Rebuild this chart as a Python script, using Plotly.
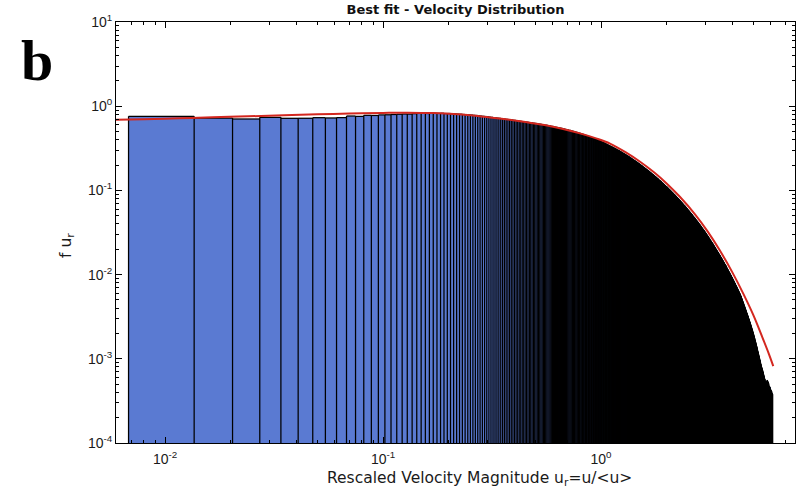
import numpy as np
import plotly.graph_objects as go

# Histogram of rescaled velocity magnitude: linear bins of equal width
BIN_WIDTH = 0.0068
FIRST_EDGE = 0.0068

BAR_HEIGHTS = [
    0.758, 0.724, 0.705, 0.737, 0.718, 0.719, 0.731, 0.725, 0.732, 0.765, 0.757, 0.779, 0.776, 0.788, 0.791, 0.797, 0.803, 0.808, 0.806, 0.815,
    0.821, 0.826, 0.819, 0.828, 0.824, 0.822, 0.825, 0.818, 0.819, 0.813, 0.811, 0.806, 0.804, 0.797, 0.795, 0.789, 0.786, 0.779, 0.776, 0.770,
    0.764, 0.759, 0.754, 0.749, 0.742, 0.738, 0.732, 0.728, 0.721, 0.718, 0.712, 0.708, 0.703, 0.699, 0.694, 0.690, 0.686, 0.681, 0.678, 0.673,
    0.669, 0.666, 0.661, 0.658, 0.654, 0.651, 0.647, 0.644, 0.640, 0.637, 0.633, 0.630, 0.626, 0.623, 0.619, 0.616, 0.612, 0.609, 0.605, 0.602,
    0.598, 0.595, 0.592, 0.588, 0.585, 0.582, 0.578, 0.575, 0.572, 0.568, 0.565, 0.562, 0.558, 0.555, 0.552, 0.548, 0.545, 0.542, 0.538, 0.535,
    0.532, 0.528, 0.525, 0.522, 0.518, 0.515, 0.512, 0.508, 0.505, 0.502, 0.498, 0.495, 0.492, 0.488, 0.485, 0.482, 0.478, 0.475, 0.472, 0.468,
    0.465, 0.462, 0.458, 0.455, 0.452, 0.448, 0.445, 0.442, 0.439, 0.436, 0.432, 0.429, 0.426, 0.423, 0.420, 0.416, 0.413, 0.410, 0.407, 0.404,
    0.401, 0.398, 0.395, 0.392, 0.389, 0.385, 0.382, 0.379, 0.376, 0.373, 0.370, 0.367, 0.364, 0.361, 0.358, 0.355, 0.352, 0.349, 0.346, 0.343,
    0.340, 0.337, 0.335, 0.332, 0.329, 0.327, 0.324, 0.321, 0.319, 0.316, 0.314, 0.311, 0.309, 0.306, 0.304, 0.301, 0.299, 0.296, 0.294, 0.291,
    0.289, 0.286, 0.284, 0.282, 0.279, 0.277, 0.275, 0.272, 0.270, 0.268, 0.266, 0.263, 0.261, 0.259, 0.257, 0.255, 0.253, 0.250, 0.248, 0.246,
    0.244, 0.242, 0.240, 0.238, 0.236, 0.234, 0.232, 0.230, 0.228, 0.226, 0.224, 0.222, 0.220, 0.218, 0.216, 0.215, 0.213, 0.211, 0.209, 0.207,
    0.206, 0.204, 0.202, 0.200, 0.199, 0.197, 0.195, 0.194, 0.192, 0.190, 0.189, 0.187, 0.185, 0.184, 0.182, 0.181, 0.179, 0.178, 0.176, 0.175,
    0.173, 0.172, 0.170, 0.169, 0.167, 0.166, 0.165, 0.163, 0.162, 0.160, 0.159, 0.158, 0.156, 0.155, 0.154, 0.152, 0.151, 0.150, 0.148, 0.147,
    0.146, 0.145, 0.144, 0.142, 0.141, 0.140, 0.139, 0.138, 0.136, 0.135, 0.134, 0.133, 0.132, 0.131, 0.130, 0.129, 0.128, 0.127, 0.125, 0.124,
    0.123, 0.122, 0.121, 0.120, 0.119, 0.118, 0.117, 0.116, 0.115, 0.114, 0.113, 0.112, 0.111, 0.111, 0.110, 0.109, 0.108, 0.107, 0.106, 0.105,
    0.104, 0.103, 0.102, 0.102, 0.101, 0.100, 0.0990, 0.0982, 0.0974, 0.0965, 0.0957, 0.0949, 0.0941, 0.0933, 0.0925, 0.0917, 0.0909, 0.0902, 0.0894, 0.0886,
    0.0879, 0.0871, 0.0864, 0.0857, 0.0849, 0.0842, 0.0835, 0.0828, 0.0821, 0.0814, 0.0807, 0.0801, 0.0794, 0.0787, 0.0781, 0.0774, 0.0768, 0.0761, 0.0755, 0.0749,
    0.0742, 0.0736, 0.0730, 0.0724, 0.0718, 0.0712, 0.0706, 0.0700, 0.0694, 0.0688, 0.0683, 0.0677, 0.0671, 0.0666, 0.0660, 0.0655, 0.0649, 0.0644, 0.0638, 0.0633,
    0.0628, 0.0622, 0.0617, 0.0612, 0.0607, 0.0602, 0.0597, 0.0592, 0.0587, 0.0582, 0.0577, 0.0572, 0.0567, 0.0563, 0.0558, 0.0553, 0.0549, 0.0544, 0.0540, 0.0535,
    0.0531, 0.0526, 0.0522, 0.0518, 0.0513, 0.0509, 0.0505, 0.0500, 0.0496, 0.0492, 0.0488, 0.0484, 0.0480, 0.0476, 0.0472, 0.0468, 0.0464, 0.0460, 0.0456, 0.0453,
    0.0449, 0.0445, 0.0441, 0.0438, 0.0434, 0.0431, 0.0427, 0.0424, 0.0420, 0.0417, 0.0413, 0.0410, 0.0406, 0.0403, 0.0400, 0.0396, 0.0393, 0.0390, 0.0386, 0.0383,
    0.0380, 0.0377, 0.0374, 0.0370, 0.0367, 0.0364, 0.0361, 0.0358, 0.0355, 0.0352, 0.0349, 0.0346, 0.0343, 0.0341, 0.0338, 0.0335, 0.0332, 0.0329, 0.0327, 0.0324,
    0.0321, 0.0318, 0.0316, 0.0313, 0.0310, 0.0308, 0.0305, 0.0302, 0.0300, 0.0297, 0.0295, 0.0292, 0.0290, 0.0287, 0.0285, 0.0282, 0.0280, 0.0277, 0.0275, 0.0273,
    0.0270, 0.0268, 0.0266, 0.0263, 0.0261, 0.0259, 0.0257, 0.0254, 0.0252, 0.0250, 0.0248, 0.0246, 0.0244, 0.0242, 0.0240, 0.0238, 0.0236, 0.0234, 0.0232, 0.0230,
    0.0228, 0.0226, 0.0224, 0.0222, 0.0220, 0.0218, 0.0216, 0.0214, 0.0212, 0.0210, 0.0209, 0.0207, 0.0205, 0.0203, 0.0202, 0.0200, 0.0198, 0.0197, 0.0195, 0.0193,
    0.0192, 0.0190, 0.0188, 0.0187, 0.0185, 0.0184, 0.0182, 0.0181, 0.0179, 0.0178, 0.0176, 0.0175, 0.0173, 0.0172, 0.0170, 0.0169, 0.0168, 0.0166, 0.0165, 0.0163,
    0.0162, 0.0161, 0.0159, 0.0158, 0.0157, 0.0155, 0.0154, 0.0153, 0.0151, 0.0150, 0.0149, 0.0148, 0.0146, 0.0145, 0.0144, 0.0143, 0.0141, 0.0140, 0.0139, 0.0138,
    0.0137, 0.0135, 0.0134, 0.0133, 0.0132, 0.0131, 0.0130, 0.0129, 0.0128, 0.0127, 0.0126, 0.0125, 0.0124, 0.0122, 0.0121, 0.0120, 0.0119, 0.0118, 0.0117, 0.0116,
    0.0115, 0.0114, 0.0113, 0.0112, 0.0111, 0.0110, 0.0109, 0.0108, 0.0107, 0.0106, 0.0106, 0.0105, 0.0104, 0.0103, 0.0102, 0.0101, 0.0100, 0.00994, 0.00985, 0.00977,
    0.00968, 0.00960, 0.00952, 0.00944, 0.00935, 0.00927, 0.00919, 0.00911, 0.00904, 0.00896, 0.00888, 0.00880, 0.00873, 0.00865, 0.00858, 0.00850, 0.00843, 0.00836, 0.00828, 0.00821,
    0.00814, 0.00807, 0.00800, 0.00793, 0.00786, 0.00780, 0.00773, 0.00766, 0.00760, 0.00753, 0.00747, 0.00740, 0.00734, 0.00727, 0.00721, 0.00715, 0.00709, 0.00702, 0.00696, 0.00690,
    0.00684, 0.00678, 0.00673, 0.00667, 0.00661, 0.00655, 0.00650, 0.00644, 0.00638, 0.00633, 0.00627, 0.00622, 0.00617, 0.00611, 0.00606, 0.00601, 0.00596, 0.00590, 0.00585, 0.00580,
    0.00574, 0.00568, 0.00562, 0.00556, 0.00550, 0.00544, 0.00538, 0.00532, 0.00526, 0.00520, 0.00515, 0.00509, 0.00503, 0.00498, 0.00492, 0.00487, 0.00482, 0.00476, 0.00471, 0.00466,
    0.00461, 0.00456, 0.00451, 0.00446, 0.00441, 0.00436, 0.00431, 0.00427, 0.00422, 0.00417, 0.00413, 0.00408, 0.00404, 0.00399, 0.00395, 0.00391, 0.00386, 0.00382, 0.00378, 0.00374,
    0.00369, 0.00366, 0.00361, 0.00358, 0.00353, 0.00350, 0.00345, 0.00342, 0.00338, 0.00334, 0.00331, 0.00326, 0.00324, 0.00319, 0.00317, 0.00312, 0.00310, 0.00305, 0.00303, 0.00299,
    0.00296, 0.00292, 0.00290, 0.00285, 0.00283, 0.00279, 0.00277, 0.00272, 0.00271, 0.00266, 0.00265, 0.00260, 0.00259, 0.00254, 0.00253, 0.00249, 0.00247, 0.00243, 0.00242, 0.00238,
    0.00236, 0.00232, 0.00231, 0.00226, 0.00225, 0.00221, 0.00220, 0.00215, 0.00215, 0.00210, 0.00209, 0.00205, 0.00204, 0.00200, 0.00199, 0.00195, 0.00194, 0.00190, 0.00189, 0.00185,
    0.00184, 0.00180, 0.00179, 0.00176, 0.00175, 0.00171, 0.00170, 0.00167, 0.00165, 0.00162, 0.00161, 0.00158, 0.00157, 0.00154, 0.00152, 0.00150, 0.00148, 0.00146, 0.00144, 0.00142,
    0.00141, 0.00138, 0.00137, 0.00134, 0.00133, 0.00130, 0.00129, 0.00126, 0.00125, 0.00123, 0.00121, 0.00120, 0.00118, 0.00117, 0.00114, 0.00114, 0.00111, 0.00110, 0.00107, 0.00107,
    0.00104, 0.00105, 0.00100, 0.00102, 0.00097, 0.00099, 0.00094, 0.00096, 0.00091, 0.00093, 0.00088, 0.00091, 0.00085, 0.00088, 0.00082, 0.00086, 0.00080, 0.00083, 0.00078, 0.00081,
    0.00075, 0.00080, 0.00073, 0.00078, 0.00070, 0.00076, 0.00068, 0.00074, 0.00065, 0.00073, 0.00063, 0.00071, 0.00061, 0.00069, 0.00058, 0.00068, 0.00056, 0.00066, 0.00054, 0.00064,
    0.00052, 0.00062, 0.00049, 0.00061, 0.00047, 0.00059, 0.00044, 0.00058, 0.00042, 0.00057, 0.00040, 0.00055, 0.00038, 0.00054, 0.00036, 0.00053, 0.00034, 0.00052, 0.00031, 0.00051,
    0.00029, 0.00050, 0.00027, 0.00052, 0.00025, 0.00049, 0.00022, 0.00055, 0.00020, 0.00048, 0.00018, 0.00056, 0.00016, 0.00047, 0.00014, 0.00054, 0.00012, 0.00046, 0.00011, 0.00053,
    0.00010, 0.00045, 0.0, 0.00051, 0.00009, 0.00044, 0.0, 0.00048, 0.0, 0.00043, 0.0, 0.00047, 0.0, 0.00042, 0.0, 0.00046, 0.0, 0.00041, 0.0, 0.00044,
    0.0, 0.00040, 0.0, 0.00043, 0.0, 0.00039, 0.0, 0.00042, 0.0, 0.00037, 0.0, 0.00041, 0.0, 0.00036, 0.0, 0.00039, 0.0, 0.00034, 0.0, 0.00038,
]

# Best-fit curve, sampled along the fitted distribution
FIT_U = [0.0056, 0.008, 0.0115, 0.0165, 0.024, 0.035, 0.05, 0.07, 0.1, 0.13, 0.17, 0.22, 0.28, 0.35,
         0.45, 0.55, 0.67, 0.8, 0.95, 1.1, 1.3, 1.5, 1.75, 2.0, 2.3, 2.7, 3.1, 3.5, 4.0, 4.5, 5.0,
         5.5, 5.9, 6.17]
FIT_F = [0.687, 0.700, 0.718, 0.738, 0.758, 0.780, 0.800, 0.818, 0.832, 0.838, 0.828, 0.800, 0.757, 0.711,
         0.650, 0.597, 0.537, 0.476, 0.415, 0.360, 0.283, 0.222, 0.164, 0.121, 0.084, 0.052, 0.032, 0.0196, 0.0107, 0.0059, 0.0033,
         0.0018, 0.00113, 0.00082]

X_TICKS = [0.01, 0.1, 1]
X_TICK_TEXT = ["10<sup>-2</sup>", "10<sup>-1</sup>", "10<sup>0</sup>"]
Y_TICKS = [1e-4, 1e-3, 1e-2, 1e-1, 1, 10]
Y_TICK_TEXT = ["10<sup>-4</sup>", "10<sup>-3</sup>", "10<sup>-2</sup>",
               "10<sup>-1</sup>", "10<sup>0</sup>", "10<sup>1</sup>"]
Y_FLOOR = 1e-4  # bars rise from the bottom of the axis

BAR_BLUE = "#5a7ad2"
EDGE_COLOR = "#000000"
FIT_RED = "#d3271f"
TICK_FONT = dict(family="Liberation Sans, Arial, sans-serif", size=14, color="#1a1a1a")
LABEL_FONT = dict(family="DejaVu Sans, sans-serif", size=15.5, color="#1a1a1a")

heights = np.asarray(BAR_HEIGHTS, dtype=float)
n_bins = heights.size
edges = FIRST_EDGE + BIN_WIDTH * np.arange(n_bins + 1)
centers = 0.5 * (edges[:-1] + edges[1:])
keep = heights > 0

# Bar outlines: one vertical stroke per bin edge (up to the taller neighbour)
# plus a cap across the top of every non-empty bin.
padded = np.concatenate([[0.0], heights, [0.0]])
edge_tops = np.maximum(padded[:-1], padded[1:])
has_edge = edge_tops > 0
outline_x, outline_y = [], []
for xe, ht in zip(edges[has_edge], edge_tops[has_edge]):
    outline_x += [xe, xe, None]
    outline_y += [Y_FLOOR, ht, None]
for x0, x1, ht in zip(edges[:-1][keep], edges[1:][keep], heights[keep]):
    outline_x += [x0, x1, None]
    outline_y += [ht, ht, None]

fig = go.Figure()
fig.add_trace(go.Bar(
    x=centers[keep], y=heights[keep], width=BIN_WIDTH,
    marker=dict(color=BAR_BLUE, line=dict(width=0)),
    hoverinfo="skip",
))
fig.add_trace(go.Scatter(
    x=outline_x, y=outline_y, mode="lines",
    line=dict(color=EDGE_COLOR, width=1.25, simplify=False),
    connectgaps=False, hoverinfo="skip",
))
fig.add_trace(go.Scatter(
    x=FIT_U, y=FIT_F, mode="lines",
    line=dict(color=FIT_RED, width=2, shape="spline"),
    hoverinfo="skip",
))

axis_common = dict(
    type="log", showgrid=False, zeroline=False,
    showline=True, linecolor="#000000", linewidth=1, mirror="allticks",
    ticks="inside", ticklen=6, tickwidth=1, tickcolor="#000000",
    tickmode="array", tickfont=TICK_FONT,
    minor=dict(ticks="inside", ticklen=3, tickwidth=1, tickcolor="#000000",
               dtick="D1", showgrid=False),
)

fig.update_layout(
    width=796, height=495, autosize=False,
    margin=dict(l=116, r=1, t=22, b=52),
    paper_bgcolor="white", plot_bgcolor="white",
    showlegend=False, bargap=0,
    xaxis=dict(axis_common, range=[-2.225, 0.89],
               tickvals=X_TICKS, ticktext=X_TICK_TEXT, ticklabelstandoff=3),
    yaxis=dict(axis_common, range=[-4, 1],
               tickvals=Y_TICKS, ticktext=Y_TICK_TEXT),
    title=dict(text="<b>Best fit - Velocity Distribution</b>",
               font=dict(family="DejaVu Sans, sans-serif", size=13, color="#111111"),
               xref="paper", x=0.5, xanchor="center",
               yref="container", y=1 - 9 / 495, yanchor="middle"),
)

fig.add_annotation(
    text="Rescaled Velocity Magnitude u<sub>r</sub>=u/&lt;u&gt;",
    xref="paper", yref="paper", x=(479 - 116) / 679, y=-(479 - 443) / 421,
    xanchor="center", yanchor="middle", showarrow=False, font=LABEL_FONT,
)
fig.add_annotation(
    text="f u<sub>r</sub>", textangle=-90,
    xref="paper", yref="paper", x=-(116 - 67) / 679, y=(443 - 246) / 421,
    xanchor="center", yanchor="middle", showarrow=False, font=LABEL_FONT,
)
fig.add_annotation(
    text="<b>b</b>",
    xref="paper", yref="paper", x=-(116 - 37) / 679, y=(443 - 61) / 421,
    xanchor="center", yanchor="middle", showarrow=False,
    font=dict(family="Liberation Serif, Times New Roman, serif", size=58, color="#000000"),
)

fig.write_html("out.html")
